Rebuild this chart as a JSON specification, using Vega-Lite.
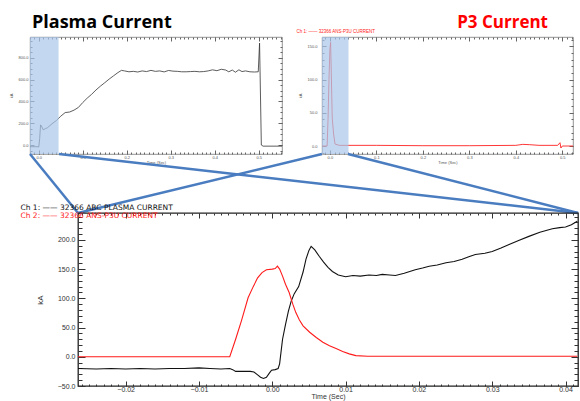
{
  "$schema": "https://vega.github.io/schema/vega-lite/v6.json",
  "autosize": {"type": "none"},
  "padding": {"left": 30, "top": 37, "right": 550, "bottom": 364},
  "background": "white",
  "bounds": "flush",
  "spacing": 0,
  "resolve": {"scale": {"color": "independent"}, "legend": {"color": "independent"}},
  "config": {
    "font": "Liberation Sans",
    "axis": {"labelColor": "#333", "titleColor": "#333", "tickColor": "#333", "domain": false, "grid": false, "titleFontWeight": "normal", "labelFont": "Liberation Sans", "titleFont": "Liberation Sans"},
    "legend": {"labelFont": "DejaVu Sans"}
  },
  "datasets": {
    "main": [
      {"t": -0.0265, "kA": -20, "ch": "Ch 1"}, {"t": -0.024, "kA": -21, "ch": "Ch 1"}, {"t": -0.022, "kA": -20, "ch": "Ch 1"},
      {"t": -0.02, "kA": -21, "ch": "Ch 1"}, {"t": -0.018, "kA": -20, "ch": "Ch 1"}, {"t": -0.016, "kA": -21, "ch": "Ch 1"},
      {"t": -0.014, "kA": -20, "ch": "Ch 1"}, {"t": -0.012, "kA": -20, "ch": "Ch 1"}, {"t": -0.01, "kA": -19, "ch": "Ch 1"},
      {"t": -0.0085, "kA": -20, "ch": "Ch 1"}, {"t": -0.007, "kA": -21, "ch": "Ch 1"}, {"t": -0.0058, "kA": -20, "ch": "Ch 1"},
      {"t": -0.0054, "kA": -22, "ch": "Ch 1"}, {"t": -0.005, "kA": -25, "ch": "Ch 1"}, {"t": -0.004, "kA": -25, "ch": "Ch 1"},
      {"t": -0.003, "kA": -25, "ch": "Ch 1"}, {"t": -0.0025, "kA": -26, "ch": "Ch 1"}, {"t": -0.002, "kA": -31, "ch": "Ch 1"},
      {"t": -0.0016, "kA": -35, "ch": "Ch 1"}, {"t": -0.0012, "kA": -37, "ch": "Ch 1"}, {"t": -0.0008, "kA": -35, "ch": "Ch 1"},
      {"t": -0.0004, "kA": -28, "ch": "Ch 1"}, {"t": -0.0001, "kA": -23, "ch": "Ch 1"}, {"t": 0.0004, "kA": -22, "ch": "Ch 1"},
      {"t": 0.0008, "kA": -20, "ch": "Ch 1"}, {"t": 0.001, "kA": -12, "ch": "Ch 1"}, {"t": 0.0014, "kA": 30, "ch": "Ch 1"},
      {"t": 0.0018, "kA": 55, "ch": "Ch 1"}, {"t": 0.0022, "kA": 78, "ch": "Ch 1"}, {"t": 0.0026, "kA": 96, "ch": "Ch 1"},
      {"t": 0.003, "kA": 108, "ch": "Ch 1"}, {"t": 0.0036, "kA": 120, "ch": "Ch 1"}, {"t": 0.0042, "kA": 145, "ch": "Ch 1"},
      {"t": 0.0046, "kA": 167, "ch": "Ch 1"}, {"t": 0.005, "kA": 182, "ch": "Ch 1"}, {"t": 0.0053, "kA": 189, "ch": "Ch 1"},
      {"t": 0.0058, "kA": 183, "ch": "Ch 1"}, {"t": 0.0064, "kA": 172, "ch": "Ch 1"}, {"t": 0.007, "kA": 162, "ch": "Ch 1"},
      {"t": 0.0076, "kA": 153, "ch": "Ch 1"}, {"t": 0.0082, "kA": 146, "ch": "Ch 1"}, {"t": 0.009, "kA": 140, "ch": "Ch 1"},
      {"t": 0.01, "kA": 137, "ch": "Ch 1"}, {"t": 0.011, "kA": 139, "ch": "Ch 1"}, {"t": 0.012, "kA": 138, "ch": "Ch 1"},
      {"t": 0.0132, "kA": 140, "ch": "Ch 1"}, {"t": 0.0142, "kA": 139, "ch": "Ch 1"}, {"t": 0.015, "kA": 141, "ch": "Ch 1"},
      {"t": 0.016, "kA": 140, "ch": "Ch 1"}, {"t": 0.0168, "kA": 139, "ch": "Ch 1"}, {"t": 0.018, "kA": 143, "ch": "Ch 1"},
      {"t": 0.0195, "kA": 149, "ch": "Ch 1"}, {"t": 0.0205, "kA": 152, "ch": "Ch 1"}, {"t": 0.0214, "kA": 155, "ch": "Ch 1"},
      {"t": 0.0225, "kA": 157, "ch": "Ch 1"}, {"t": 0.0237, "kA": 161, "ch": "Ch 1"}, {"t": 0.0248, "kA": 163, "ch": "Ch 1"},
      {"t": 0.0259, "kA": 167, "ch": "Ch 1"}, {"t": 0.0268, "kA": 171, "ch": "Ch 1"}, {"t": 0.0277, "kA": 175, "ch": "Ch 1"},
      {"t": 0.029, "kA": 177, "ch": "Ch 1"}, {"t": 0.03, "kA": 180, "ch": "Ch 1"}, {"t": 0.0312, "kA": 186, "ch": "Ch 1"},
      {"t": 0.0323, "kA": 192, "ch": "Ch 1"}, {"t": 0.0336, "kA": 199, "ch": "Ch 1"}, {"t": 0.035, "kA": 206, "ch": "Ch 1"},
      {"t": 0.0365, "kA": 213, "ch": "Ch 1"}, {"t": 0.0382, "kA": 219, "ch": "Ch 1"}, {"t": 0.0392, "kA": 221, "ch": "Ch 1"},
      {"t": 0.04, "kA": 222, "ch": "Ch 1"}, {"t": 0.0408, "kA": 226, "ch": "Ch 1"}, {"t": 0.0416, "kA": 232, "ch": "Ch 1"},
      {"t": -0.0265, "kA": 0, "ch": "Ch 2"}, {"t": -0.0058, "kA": 0, "ch": "Ch 2"}, {"t": -0.005, "kA": 30, "ch": "Ch 2"},
      {"t": -0.0042, "kA": 62, "ch": "Ch 2"}, {"t": -0.0033, "kA": 101, "ch": "Ch 2"}, {"t": -0.0026, "kA": 120, "ch": "Ch 2"},
      {"t": -0.002, "kA": 135, "ch": "Ch 2"}, {"t": -0.0014, "kA": 144, "ch": "Ch 2"}, {"t": -0.0008, "kA": 149, "ch": "Ch 2"},
      {"t": 0.0, "kA": 150, "ch": "Ch 2"}, {"t": 0.0004, "kA": 151, "ch": "Ch 2"}, {"t": 0.0007, "kA": 155, "ch": "Ch 2"},
      {"t": 0.001, "kA": 150, "ch": "Ch 2"}, {"t": 0.0014, "kA": 138, "ch": "Ch 2"}, {"t": 0.0018, "kA": 124, "ch": "Ch 2"},
      {"t": 0.0023, "kA": 110, "ch": "Ch 2"}, {"t": 0.0028, "kA": 90, "ch": "Ch 2"}, {"t": 0.0032, "kA": 76, "ch": "Ch 2"},
      {"t": 0.0037, "kA": 63, "ch": "Ch 2"}, {"t": 0.0042, "kA": 53, "ch": "Ch 2"}, {"t": 0.0051, "kA": 42, "ch": "Ch 2"},
      {"t": 0.006, "kA": 33, "ch": "Ch 2"}, {"t": 0.0069, "kA": 25, "ch": "Ch 2"}, {"t": 0.0078, "kA": 19, "ch": "Ch 2"},
      {"t": 0.0087, "kA": 14, "ch": "Ch 2"}, {"t": 0.0096, "kA": 9, "ch": "Ch 2"}, {"t": 0.0105, "kA": 5, "ch": "Ch 2"},
      {"t": 0.0114, "kA": 2, "ch": "Ch 2"}, {"t": 0.013, "kA": 1, "ch": "Ch 2"}, {"t": 0.0416, "kA": 1, "ch": "Ch 2"}
    ],
    "tl": [
      {"t": -0.02, "kA": -15}, {"t": -0.004, "kA": -15}, {"t": 0.0, "kA": -18}, {"t": 0.002, "kA": 60}, {"t": 0.004, "kA": 185},
      {"t": 0.006, "kA": 175}, {"t": 0.01, "kA": 140}, {"t": 0.015, "kA": 150}, {"t": 0.02, "kA": 160}, {"t": 0.03, "kA": 195},
      {"t": 0.04, "kA": 225}, {"t": 0.05, "kA": 265}, {"t": 0.06, "kA": 298}, {"t": 0.07, "kA": 303}, {"t": 0.08, "kA": 320},
      {"t": 0.09, "kA": 345}, {"t": 0.1, "kA": 390}, {"t": 0.11, "kA": 430}, {"t": 0.12, "kA": 465}, {"t": 0.13, "kA": 505},
      {"t": 0.14, "kA": 540}, {"t": 0.15, "kA": 572}, {"t": 0.16, "kA": 605}, {"t": 0.17, "kA": 635}, {"t": 0.18, "kA": 665},
      {"t": 0.188, "kA": 685}, {"t": 0.195, "kA": 680}, {"t": 0.205, "kA": 672}, {"t": 0.215, "kA": 676}, {"t": 0.225, "kA": 670},
      {"t": 0.235, "kA": 680}, {"t": 0.245, "kA": 674}, {"t": 0.255, "kA": 685}, {"t": 0.265, "kA": 676}, {"t": 0.275, "kA": 680},
      {"t": 0.285, "kA": 671}, {"t": 0.295, "kA": 684}, {"t": 0.305, "kA": 678}, {"t": 0.315, "kA": 676}, {"t": 0.325, "kA": 672},
      {"t": 0.335, "kA": 672}, {"t": 0.345, "kA": 674}, {"t": 0.355, "kA": 676}, {"t": 0.365, "kA": 672}, {"t": 0.375, "kA": 674},
      {"t": 0.385, "kA": 680}, {"t": 0.395, "kA": 690}, {"t": 0.405, "kA": 682}, {"t": 0.415, "kA": 695}, {"t": 0.425, "kA": 688},
      {"t": 0.432, "kA": 672}, {"t": 0.44, "kA": 688}, {"t": 0.447, "kA": 668}, {"t": 0.455, "kA": 690}, {"t": 0.462, "kA": 674},
      {"t": 0.47, "kA": 680}, {"t": 0.48, "kA": 672}, {"t": 0.49, "kA": 670}, {"t": 0.499, "kA": 672}, {"t": 0.502, "kA": 935},
      {"t": 0.506, "kA": 0}, {"t": 0.51, "kA": -10}, {"t": 0.553, "kA": -10}
    ],
    "tr": [
      {"t": -0.017, "kA": 0, "ch": "P3"}, {"t": -0.006, "kA": 0, "ch": "P3"}, {"t": -0.004, "kA": 40, "ch": "P3"},
      {"t": -0.002, "kA": 100, "ch": "P3"}, {"t": 0.0, "kA": 145, "ch": "P3"}, {"t": 0.0015, "kA": 156, "ch": "P3"},
      {"t": 0.003, "kA": 110, "ch": "P3"}, {"t": 0.005, "kA": 42, "ch": "P3"}, {"t": 0.008, "kA": 18, "ch": "P3"},
      {"t": 0.011, "kA": 3, "ch": "P3"}, {"t": 0.02, "kA": 1, "ch": "P3"}, {"t": 0.1, "kA": 1, "ch": "P3"},
      {"t": 0.2, "kA": 0.5, "ch": "P3"}, {"t": 0.3, "kA": 0.5, "ch": "P3"}, {"t": 0.4, "kA": 1, "ch": "P3"},
      {"t": 0.415, "kA": 2.5, "ch": "P3"}, {"t": 0.43, "kA": 2, "ch": "P3"}, {"t": 0.45, "kA": 1, "ch": "P3"},
      {"t": 0.49, "kA": 1, "ch": "P3"}, {"t": 0.495, "kA": 5, "ch": "P3"}, {"t": 0.497, "kA": -3, "ch": "P3"},
      {"t": 0.5, "kA": 0, "ch": "P3"}, {"t": 0.523, "kA": 0, "ch": "P3"}
    ],
    "shadeTL": [{"start": -0.02, "end": 0.045}],
    "shadeTR": [{"start": -0.017, "end": 0.04}],
    "links": [
      {"from": 0.0, "to": 0.0876}, {"from": 0.0529, "to": 1.0},
      {"from": 0.5328, "to": 0.0876}, {"from": 0.5803, "to": 1.0}
    ]
  },
  "vconcat": [
    {
      "hconcat": [
        {
          "width": 252, "height": 117,
          "title": {"text": "Plasma Current", "anchor": "start", "frame": "group", "font": "Open Sans", "fontSize": 18, "fontWeight": "bold", "color": "#000", "offset": 5, "dx": 2},
          "view": {"stroke": "#777", "strokeWidth": 0.8},
          "resolve": {"axis": {"x": "independent", "y": "independent"}},
          "layer": [
            {"data": {"name": "tl"}, "mark": {"type": "line", "color": "#333", "strokeWidth": 0.8},
             "encoding": {
               "x": {"field": "t", "type": "quantitative", "scale": {"domain": [-0.02, 0.553], "nice": false, "zero": false},
                     "axis": {"orient": "bottom", "values": [0, 0.1, 0.2, 0.3, 0.4, 0.5], "format": ".1f", "tickSize": -4, "labelPadding": 5, "labelFontSize": 4, "title": "Time (Sec)", "titleFontSize": 4, "titlePadding": 1, "tickColor": "#666", "labelColor": "#555", "titleColor": "#555"}},
               "y": {"field": "kA", "type": "quantitative", "scale": {"domain": [-82, 991], "nice": false, "zero": false},
                     "axis": {"orient": "left", "values": [0, 200, 400, 600, 800], "format": ".1f", "tickSize": -4, "labelPadding": 6, "labelFontSize": 4, "title": "kA", "titleFontSize": 4, "titlePadding": 4, "tickColor": "#666", "labelColor": "#555", "titleColor": "#555"}}
             }},
            {"data": {"name": "shadeTL"}, "mark": {"type": "rect", "color": "#aac7ea", "opacity": 0.7},
             "encoding": {"x": {"field": "start", "type": "quantitative", "axis": null}, "x2": {"field": "end"}}},
            {"data": {"name": "tl"}, "mark": {"type": "point", "opacity": 0},
             "encoding": {
               "x": {"field": "t", "type": "quantitative", "axis": {"orient": "bottom", "tickCount": 57, "labels": false, "tickSize": -2, "title": null, "tickColor": "#666"}},
               "y": {"field": "kA", "type": "quantitative", "axis": {"orient": "left", "tickCount": 21, "labels": false, "tickSize": -2, "title": null, "tickColor": "#666"}}
             }},
            {"data": {"name": "tl"}, "mark": {"type": "point", "opacity": 0},
             "encoding": {
               "x": {"field": "t", "type": "quantitative", "axis": {"orient": "top", "values": [0, 0.1, 0.2, 0.3, 0.4, 0.5], "labels": false, "tickSize": -4, "title": null, "tickColor": "#666"}},
               "y": {"field": "kA", "type": "quantitative", "axis": {"orient": "right", "values": [0, 200, 400, 600, 800], "labels": false, "tickSize": -4, "title": null, "tickColor": "#666"}}
             }},
            {"data": {"name": "tl"}, "mark": {"type": "point", "opacity": 0},
             "encoding": {
               "x": {"field": "t", "type": "quantitative", "axis": {"orient": "top", "tickCount": 57, "labels": false, "tickSize": -2, "title": null, "tickColor": "#666"}},
               "y": {"field": "kA", "type": "quantitative", "axis": {"orient": "right", "tickCount": 21, "labels": false, "tickSize": -2, "title": null, "tickColor": "#666"}}
             }}
          ]
        },
        {
          "width": 251, "height": 117,
          "title": {"text": "P3 Current", "anchor": "end", "frame": "group", "font": "Open Sans", "fontSize": 17, "fontWeight": "bold", "color": "#ff0000", "offset": -2, "dx": -25},
          "view": {"stroke": "#777", "strokeWidth": 0.8},
          "resolve": {"axis": {"x": "independent", "y": "independent"}},
          "layer": [
            {"data": {"name": "tr"}, "mark": {"type": "line", "strokeWidth": 0.9},
             "encoding": {
               "x": {"field": "t", "type": "quantitative", "scale": {"domain": [-0.017, 0.523], "nice": false, "zero": false},
                     "axis": {"orient": "bottom", "values": [0, 0.1, 0.2, 0.3, 0.4, 0.5], "format": ".1f", "tickSize": -4, "labelPadding": 5, "labelFontSize": 4, "title": "Time (Sec)", "titleFontSize": 4, "titlePadding": 1, "tickColor": "#666", "labelColor": "#555", "titleColor": "#555"}},
               "y": {"field": "kA", "type": "quantitative", "scale": {"domain": [-12, 164], "nice": false, "zero": false},
                     "axis": {"orient": "left", "values": [0, 50, 100, 150], "format": ".1f", "tickSize": -4, "labelPadding": 9, "labelFontSize": 4, "title": "kA", "titleFontSize": 4, "titlePadding": 4, "tickColor": "#666", "labelColor": "#555", "titleColor": "#555"}},
               "color": {"field": "ch", "type": "nominal", "scale": {"domain": ["P3"], "range": ["#ff2020"]},
                         "legend": {"orient": "none", "legendX": -30, "legendY": -7, "title": null, "symbolSize": 0, "symbolOpacity": 0, "symbolStrokeWidth": 0, "labelOffset": 0, "labelFontSize": 4.5, "labelFont": "Liberation Sans", "labelLimit": 300, "labelColor": "#ff2020", "labelExpr": "'Ch 1:  ——  32366  ANS-P3U CURRENT'"}}
             }},
            {"data": {"name": "shadeTR"}, "mark": {"type": "rect", "color": "#aac7ea", "opacity": 0.7},
             "encoding": {"x": {"field": "start", "type": "quantitative", "axis": null}, "x2": {"field": "end"}}},
            {"data": {"name": "tr"}, "mark": {"type": "point", "opacity": 0},
             "encoding": {
               "x": {"field": "t", "type": "quantitative", "axis": {"orient": "bottom", "tickCount": 54, "labels": false, "tickSize": -2, "title": null, "tickColor": "#666"}},
               "y": {"field": "kA", "type": "quantitative", "axis": {"orient": "left", "tickCount": 17, "labels": false, "tickSize": -2, "title": null, "tickColor": "#666"}}
             }},
            {"data": {"name": "tr"}, "mark": {"type": "point", "opacity": 0},
             "encoding": {
               "x": {"field": "t", "type": "quantitative", "axis": {"orient": "top", "values": [0, 0.1, 0.2, 0.3, 0.4, 0.5], "labels": false, "tickSize": -4, "title": null, "tickColor": "#666"}},
               "y": {"field": "kA", "type": "quantitative", "axis": {"orient": "right", "values": [0, 50, 100, 150], "labels": false, "tickSize": -4, "title": null, "tickColor": "#666"}}
             }},
            {"data": {"name": "tr"}, "mark": {"type": "point", "opacity": 0},
             "encoding": {
               "x": {"field": "t", "type": "quantitative", "axis": {"orient": "top", "tickCount": 54, "labels": false, "tickSize": -2, "title": null, "tickColor": "#666"}},
               "y": {"field": "kA", "type": "quantitative", "axis": {"orient": "right", "tickCount": 17, "labels": false, "tickSize": -2, "title": null, "tickColor": "#666"}}
             }}
          ]
        }
      ],
      "spacing": 40,
      "bounds": "flush",
      "resolve": {"scale": {"color": "independent"}, "legend": {"color": "independent"}}
    },
    {
      "width": 548, "height": 176,
      "view": {"stroke": null},
      "data": {"name": "links"},
      "mark": {"type": "rule", "color": "#4a7cc0", "strokeWidth": 2.5},
      "encoding": {
        "x": {"field": "from", "type": "quantitative", "scale": {"domain": [0, 1], "nice": false, "zero": false}, "axis": null},
        "x2": {"field": "to"},
        "y": {"datum": 0.3352, "type": "quantitative", "scale": {"domain": [0, 1], "nice": false}, "axis": null},
        "y2": {"datum": 0}
      }
    },
    {
      "hconcat": [
        {
          "width": 28, "height": 173,
          "view": {"stroke": null},
          "data": {"values": [{"a": 0}]},
          "mark": {"type": "point", "opacity": 0},
          "encoding": {}
        },
        {
          "width": 500, "height": 173,
          "view": {"stroke": "#222", "strokeWidth": 1.3},
          "resolve": {"axis": {"x": "independent", "y": "independent"}},
          "layer": [
            {"data": {"name": "main"}, "mark": {"type": "line", "strokeWidth": 1.1},
             "encoding": {
               "x": {"field": "t", "type": "quantitative", "scale": {"domain": [-0.0265, 0.0417], "nice": false, "zero": false},
                     "axis": {"orient": "bottom", "values": [-0.02, -0.01, 0, 0.01, 0.02, 0.03, 0.04], "format": ".2f", "tickSize": -5, "labelPadding": 4, "labelFontSize": 7, "title": "Time (Sec)", "titleFontSize": 7, "titlePadding": 0}},
               "y": {"field": "kA", "type": "quantitative", "scale": {"domain": [-50, 246], "nice": false, "zero": false},
                     "axis": {"orient": "left", "values": [-50, 0, 50, 100, 150, 200], "format": ".1f", "tickSize": -7, "labelPadding": 10, "labelFontSize": 7, "title": "kA", "titleFontSize": 8, "titlePadding": 13}},
               "color": {"field": "ch", "type": "nominal", "scale": {"domain": ["Ch 1", "Ch 2"], "range": ["#111111", "#ff1a1a"]},
                         "legend": {"orient": "none", "legendX": -65, "legendY": -9, "title": null, "symbolSize": 0, "symbolOpacity": 0, "symbolStrokeWidth": 0, "labelOffset": 0, "labelFontSize": 7.5, "labelLimit": 400, "rowPadding": -5,
                                    "labelExpr": "datum.value == 'Ch 1' ? 'Ch 1:  ——  32366 ABC  PLASMA CURRENT' : 'Ch 2:  ——  32366  ANS-P3U CURRENT'",
                                    "encode": {"labels": {"update": {"fill": {"signal": "datum.value == 'Ch 2' ? '#ff1a1a' : '#111111'"}}}}}}
             }},
            {"data": {"name": "main"}, "mark": {"type": "point", "opacity": 0},
             "encoding": {
               "x": {"field": "t", "type": "quantitative", "axis": {"orient": "bottom", "tickCount": 68, "labels": false, "tickSize": -2, "title": null}},
               "y": {"field": "kA", "type": "quantitative", "axis": {"orient": "left", "tickCount": 30, "labels": false, "tickSize": -4, "title": null}}
             }},
            {"data": {"name": "main"}, "mark": {"type": "point", "opacity": 0},
             "encoding": {
               "x": {"field": "t", "type": "quantitative", "axis": {"orient": "top", "values": [-0.02, -0.01, 0, 0.01, 0.02, 0.03, 0.04], "labels": false, "tickSize": -5, "title": null}},
               "y": {"field": "kA", "type": "quantitative", "axis": {"orient": "right", "values": [-50, 0, 50, 100, 150, 200], "labels": false, "tickSize": -7, "title": null}}
             }},
            {"data": {"name": "main"}, "mark": {"type": "point", "opacity": 0},
             "encoding": {
               "x": {"field": "t", "type": "quantitative", "axis": {"orient": "top", "tickCount": 68, "labels": false, "tickSize": -2, "title": null}},
               "y": {"field": "kA", "type": "quantitative", "axis": {"orient": "right", "tickCount": 30, "labels": false, "tickSize": -4, "title": null}}
             }}
          ]
        }
      ],
      "spacing": 20,
      "bounds": "flush",
      "resolve": {"scale": {"color": "independent"}, "legend": {"color": "independent"}}
    }
  ]
}
